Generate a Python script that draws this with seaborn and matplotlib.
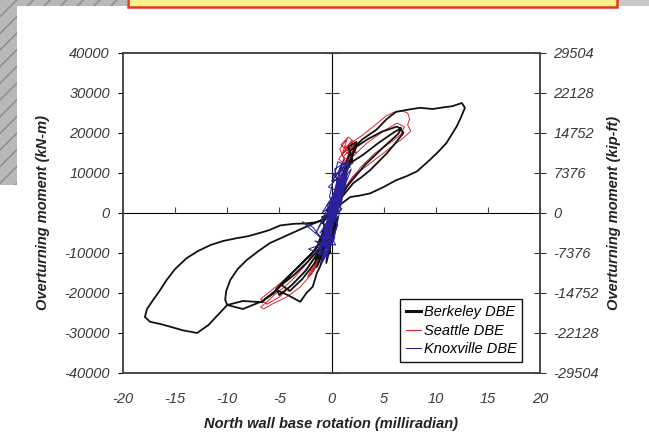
import numpy as np
import pandas as pd
import matplotlib
matplotlib.use("Agg")
import matplotlib.pyplot as plt
import seaborn as sns
from matplotlib.patches import Rectangle
from matplotlib.lines import Line2D

# axis setup
x_ticks = [-20, -15, -10, -5, 0, 5, 10, 15, 20]
y_ticks = [-40000, -30000, -20000, -10000, 0, 10000, 20000, 30000, 40000]
right_ticks = [-29504, -22128, -14752, -7376, 0, 7376, 14752, 22128, 29504]

# Berkeley DBE (black) - rotation (milliradian), moment (kN-m)
berkeley_rot = [0, 0.6, -0.4, 0.9, -0.8, 0.4, -0.2, 1.1, -1.0, 0.3, -0.6, 0.8,
                1.0, 1.8, 3.0, 4.3, 5.3, 6.2, 7.5, 8.5, 9.7, 10.7, 11.6, 12.5, 12.8, 12.4,
                12.0, 11.5, 11.0, 10.2, 9.4, 8.2, 7.2, 6.2, 5.0, 3.7, 2.6, 1.8, 0.8,
                -0.6, 0.7, -1.0, 0.2, -1.2, 0.1, -0.7, 0.5,
                -0.6, -1.4, -2.4, -3.6, -4.9, -6.0, -6.9, -8.0, -9.1, -10.4, -11.6, -12.8,
                -13.9, -15.0, -15.8, -16.5, -17.1, -17.7, -17.9, -17.4, -16.5, -15.5, -14.3,
                -12.9, -11.8, -10.9, -10.0, -8.5, -6.6, -6.5, -5.3, -4.2, -3.0, -2.4, -1.8,
                -1.4, -1.1, -0.6, 0.1,
                0.5, 1.2, 2.4, 3.5, 4.8, 5.6, 6.25, 6.6, 6.9, 6.1, 5.3, 4.5, 3.7, 2.9, 2.1,
                1.0, 0.0,
                -0.3, -2.4, -4.2, -5.9, -7.0, -8.1, -9.0, -9.7, -10.1, -10.2, -10.0,
                -8.5, -6.6, -5.5, -4.3, -3.2, -2.0, -1.0, -0.3,
                -1.5, -3.0, -4.4, -5.3, -5.0, -3.8, -2.5, -1.2, 0.2,
                -0.9, -2.2, -3.6, -4.8, -4.0, -2.8, -1.6, -0.5,
                1.2, 2.0, 1.6, 2.4, 1.8, 3.0, 4.5, 6.0, 6.7, 6.4, 5.0, 3.2, 1.6, 0.6,
                -0.9, 0.3, -1.3, 0.5, -0.7, 0.8, -1.1, 0.0, -0.5, 0.6, -1.4, -0.2,
                -0.8, 0.4, -1.0, 0.9, -0.3, 1.3, 0.2, -0.6, 0.0,
                -0.9, 0.7, -1.2, 0.1, -0.4, 1.0, -0.8, 0.3, -1.5, -0.1, -0.9, 0.6, -0.3]
berkeley_mom = [0, 5000, -4000, 7500, -7000, 3000, -2000, 6000, -9500, 1500, -5500, 4500,
                9000, 15500, 18500, 20800, 23500, 25300, 25900, 26300, 26000, 26400, 26700, 27500, 26300, 23800,
                21600, 19500, 17400, 15200, 13200, 10400, 9200, 8200, 6500, 4900, 4300, 4000, 2000,
                -6000, 6000, -9000, 1000, -11000, -3000, -8000, 2500,
                -1500, -2300, -2600, -2700, -3100, -4300, -5000, -5800, -6300, -7000, -8000, -9500,
                -11300, -14000, -16700, -19500, -21700, -24000, -26000, -27200, -27700, -28400, -29300,
                -30000, -28000, -25500, -23000, -22000, -22300, -21750, -19250, -20500, -22200, -20000, -18400,
                -15000, -13400, -9000, -3000,
                4000, 10000, 16600, 18500, 20300, 21000, 21600, 21200, 20000, 17400, 14900, 12800, 10700, 9000, 7500,
                4000, 0,
                -1000, -3400, -5500, -7500, -9500, -11700, -14000, -16700, -19500, -21700, -23000,
                -24000, -22000, -20000, -16500, -13500, -10500, -7000, -3000,
                -9000, -13000, -16500, -19000, -20500, -18000, -14500, -9500, -2000,
                -8000, -12000, -15500, -18000, -19500, -16500, -12500, -6000,
                9000, 13500, 16500, 17800, 12500, 14500, 17500, 20200, 21200, 19800, 16500, 12000, 7000, 3000,
                -8500, 2000, -11000, 5500, -6500, 8000, -10000, 0, -12500, -1000, -13500, -4000,
                -9000, 3500, -7500, 6500, -2500, 9500, -1500, -5000, 0,
                -2500, 4000, -7000, -6500, 1000, 5000, -4500, -3500, -11500, -10000, -1000, 500, -6000]

# Seattle DBE (red)
seattle_rot = [0, 0.5, -0.5, 1.0, -1.0, 1.3, 0.8, 1.5, 1.0, 2.0, 1.4, 2.2, 1.2, 1.8,
               0.9, 1.6, 2.3, 1.7, 1.1, 2.1, 1.5, 0.7, 1.9, 2.4, 1.3,
               3.0, 4.2, 5.2, 6.0, 6.8, 7.3, 7.5, 7.3, 7.6, 7.0, 6.0, 5.0, 4.0, 3.0, 2.0, 1.0,
               1.6, 2.2, 1.3, 2.0, 3.4, 5.0, 6.3, 7.0, 6.6, 5.6, 4.2, 2.8, 1.5, 0.3,
               -0.5, -1.5, -2.5, -3.5, -4.5, -5.5, -6.3, -6.8, -6.5, -5.5, -4.3, -3.0, -2.0, -1.0, 0.0,
               -1.2, -2.8, -4.2, -5.6, -6.8, -6.2, -5.0, -3.6, -2.2, -0.8, 0.5,
               -0.6, -1.6, -0.9, -2.0, -1.2, -2.3, -0.5, 0.3, -1.0, -1.9, -0.4, -1.4, 0.6, 1.2, 0.2]
seattle_mom = [0, 6000, -6000, 10000, -9000, 13000, 16000, 18500, 14500, 17500, 13000, 16000, 12000, 15000,
               17000, 19000, 17500, 15500, 14000, 12500, 11500, 13500, 18000, 15000, 16500,
               19500, 22000, 24200, 25200, 25500, 25000, 23500, 22000, 20500, 19000, 17000, 15000, 13000, 11000, 9000, 5000,
               12500, 17000, 15500, 14000, 17500, 20500, 22500, 21500, 19500, 17500, 15000, 11500, 7000, 1000,
               -3000, -9000, -13000, -16000, -18500, -20500, -22500, -23500, -24000, -22500, -21000, -18500, -15500, -11000, -5000,
               -8000, -12500, -16000, -19000, -21500, -22800, -21000, -17500, -13500, -8500, -2000,
               -9000, -13500, -11000, -15500, -12500, -16000, -6000, 0, -10500, -14500, -8000, -12000, 4000, 9000, 0]

# Knoxville DBE (blue)
knoxville_rot = [0, 0.6, -0.5, 1.0, -0.8, 1.4, 0.2, -1.2, 0.8, -0.3, 1.7, 0.6, 1.2, 0.4,
                 -0.9, -2.8, -1.8, -0.6, -2.2, -0.4, 0.6, 1.5, -1.0, -0.2, 1.1,
                 0.1, 1.9, 0.7, -1.5, -0.1, 0.9, -0.7, 0.5,
                 -0.9, 1.2, 0.0, 1.6, 0.3, 0.9, -1.1, 0.2, -1.3, 0.3, -0.8, 0.6, -0.4, 1.4,
                 0.1, 1.8, 0.6, -0.2, 1.0, -0.6, 0.4, -1.6, -0.2, -1.0, 0.0, 1.1, -0.3, 1.3,
                 0.5, -0.5, 0.8, -1.2, 0.2, 1.5, 0.0]
knoxville_mom = [0, 5000, -4500, 9000, -8000, 11500, 2000, -10000, 8500, -3000, 12500, 10000, 13500, 6000,
                 -6500, -2200, -3500, -7500, -9000, -11000, 4000, 10500, -12500, -6000, 8000,
                 -1000, 11000, 7000, -5000, 1500, 12000, -9500, 3000,
                 0, 9000, 8000, 13000, 11000, 3000, -5000, -2000, -9000, -6000, -11500, -3000, 2000, 7000,
                 9500, 11500, 12800, 4000, 1000, -3000, -8000, -7000, -9000, -13000, -4000, 5000, 6500, 10500,
                 7000, -1500, 2500, -10500, -7000, 9500, 0]

series = {
    "Berkeley DBE": (berkeley_rot, berkeley_mom, "#111111", 1.3, 2.2),
    "Seattle DBE": (seattle_rot, seattle_mom, "#d9262c", 0.7, 2.1),
    "Knoxville DBE": (knoxville_rot, knoxville_mom, "#2a229a", 0.75, 2.4),
}

plt.rcParams['font.family'] = ['Liberation Sans', 'DejaVu Sans']
fig = plt.figure(figsize=(6.49, 4.37), dpi=100)
fig.patch.set_facecolor("white")

# slide decorations
W, H = 649, 437
def px_rect(x0, y0, x1, y1, **kw):
    fig.add_artist(Rectangle((x0 / W, 1 - y1 / H), (x1 - x0) / W, (y1 - y0) / H,
                             transform=fig.transFigure, **kw))
px_rect(0, 0, 17, 185, facecolor="#b8b8b8", edgecolor="#8a8a8a", hatch="//", lw=0)
px_rect(0, 0, 127, 6, facecolor="#b8b8b8", edgecolor="#8a8a8a", hatch="//", lw=0)
px_rect(617, 0, 649, 6, facecolor="#c8c8c8", lw=0)
px_rect(128, -3, 617, 6.5, facecolor="#fbf28e", edgecolor="#e8342a", lw=1.8)

ax = fig.add_axes([123 / W, 1 - 373 / H, 417 / W, 320 / H])

for name, (xs, ys, col, lw, z) in series.items():
    df = pd.DataFrame({"rot": xs, "moment": ys})
    sns.lineplot(data=df, x="rot", y="moment", sort=False, estimator=None,
                 color=col, lw=lw, ax=ax, zorder=z)

ax.set_xlim(-20, 20)
ax.set_ylim(-40000, 40000)
ax.set_xticks(x_ticks)
ax.set_yticks(y_ticks)
ax.set_xticklabels([str(t) for t in x_ticks])
ax.set_yticklabels([str(t) for t in y_ticks])
ax.tick_params(left=False, bottom=False, labelsize=10.5, labelcolor="#3a3a3a")
ax.tick_params(axis="x", pad=10)
ax.tick_params(axis="y", pad=6)
for lab in ax.get_xticklabels() + ax.get_yticklabels():
    lab.set_fontstyle("italic")
for sp in ax.spines.values():
    sp.set_color("#444444")
    sp.set_linewidth(1.1)

# axes crossing at zero
xz = ax.secondary_xaxis(0.5)
xz.set_xticks(x_ticks, labels=[""] * len(x_ticks))
xz.tick_params(direction="out", length=4, color="#444444")
xz.spines["bottom"].set_color("#444444")
yz = ax.secondary_yaxis(0.5)
yz.set_yticks(y_ticks, labels=[""] * len(y_ticks))
yz.tick_params(direction="inout", length=10, color="#333333")
yz.spines["left"].set_color("#444444")

ax2 = ax.twinx()
ax2.set_ylim(-29504, 29504)
ax2.set_yticks(right_ticks)
ax2.set_yticklabels([str(t) for t in right_ticks])
ax2.tick_params(direction="inout", length=9, color="#333333", labelsize=10.5,
                labelcolor="#3a3a3a", pad=5)
for lab in ax2.get_yticklabels():
    lab.set_fontstyle("italic")
for sp in ax2.spines.values():
    sp.set_color("#444444")
    sp.set_linewidth(1.1)

ax.set_xlabel("North wall base rotation (milliradian)", fontsize=10.5,
              fontweight="bold", fontstyle="italic", color="#222222", labelpad=8)
ax.set_ylabel("Overturning moment (kN-m)", fontsize=10.5,
              fontweight="bold", fontstyle="italic", color="#222222", labelpad=10)
ax2.set_ylabel("Overturning moment (kip-ft)", fontsize=10.5,
               fontweight="bold", fontstyle="italic", color="#222222", labelpad=6)

handles = [Line2D([0], [0], color=c, lw=(2.2 if n.startswith("Berk") else 0.8), label=n)
           for n, (_, _, c, _, _) in series.items()]
leg = ax.legend(handles=handles, loc="lower right", bbox_to_anchor=(0.975, 0.012),
                fancybox=False, framealpha=1, edgecolor="#111111", handlelength=1.0,
                handletextpad=0.2, borderpad=0.4, labelspacing=0.3,
                prop={"style": "italic", "size": 10.5})
leg.get_frame().set_linewidth(1.0)
leg.set_zorder(5)

fig.savefig("out.png", dpi=100)
